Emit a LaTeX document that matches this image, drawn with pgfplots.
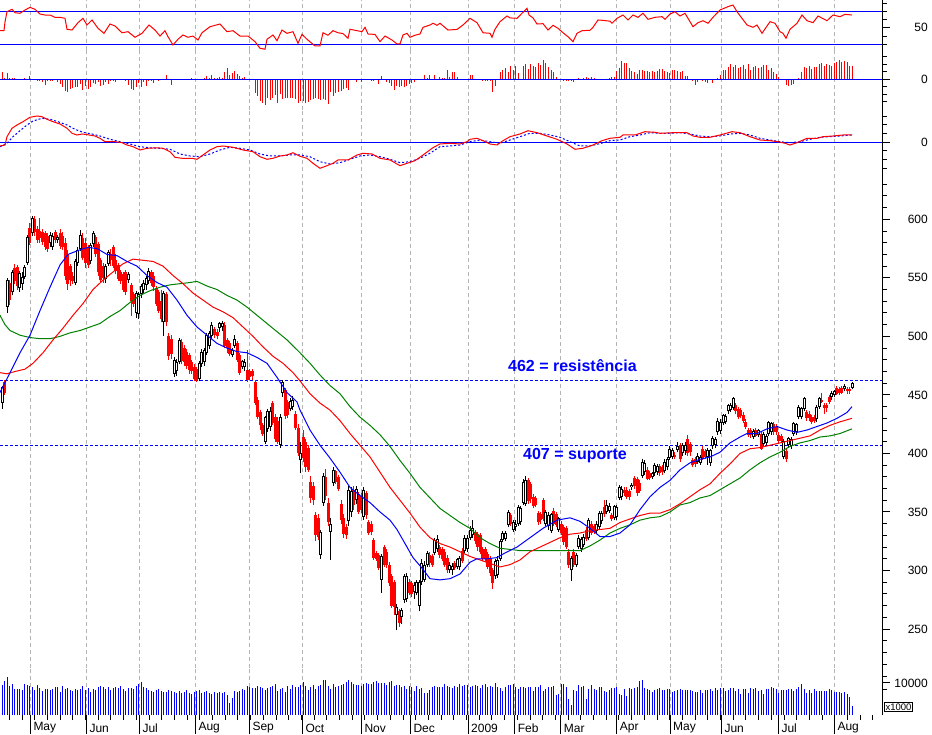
\documentclass[border=0pt]{standalone}
\usepackage{fontspec}
\setmainfont{Liberation Sans}
\usepackage{pgfplots}
\usepackage{pgfplotstable}
\pgfplotsset{compat=1.18}

\definecolor{gridgray}{RGB}{180,180,180}
\definecolor{mablue}{RGB}{0,0,255}
\definecolor{mared}{RGB}{255,0,0}
\definecolor{magreen}{RGB}{0,128,0}

% daily bars: index, open, high, low, close, volume (x1000), histogram
\pgfplotstableread{
i o h l c v g
0 443 458 438 457 9400 7
1 461 463 450 452 10700 1
2 525 550 520 548 11800 6
3 546 548 527 531 9100 1
4 538 557 535 555 9700 1.5
5 558 562 545 547 8000 1
6 559 561 540 543 8000 0.5
7 541 556 538 554 8000 0
8 545 555 540 551 7800 0.5
9 551 561 549 559 9700 1
10 563 587 561 585 9400 0.5
11 593 597 578 580 9000 3
12 588 603 586 601 8600 0.5
13 600 603 586 589 7800 0
14 592 594 580 582 9300 -1.5
15 590 601 580 584 8500 -2
16 589 592 578 581 7500 -3
17 588 590 574 576 8000 -6
18 586 588 572 575 8000 -2
19 580 589 576 587 7900 -1.5
20 576 588 574 586 8200 -2
21 589 591 580 582 8800 -1
22 582 587 580 585 8700 -3
23 588 592 575 577 7300 -5
24 586 589 574 576 9100 -8
25 580 584 548 552 8000 -11.5
26 570 574 540 545 8300 -13
27 560 562 543 548 7800 -9.5
28 552 555 545 547 7600 -8.5
29 546 566 544 564 8100 -8
30 563 576 560 574 7800 -7.5
31 575 591 573 587 8200 -5
32 584 588 565 567 9000 -10.7
33 580 584 558 563 7900 -7
34 576 578 558 561 8400 -9.5
35 564 580 562 578 7200 -8
36 579 590 576 588 8200 -4
37 585 587 568 570 7900 -5
38 579 581 552 555 8600 -3
39 565 567 546 548 9000 -6.5
40 560 563 546 550 8800 -5.5
41 549 562 546 560 8000 -3
42 562 574 560 572 8700 -5
43 570 575 560 565 7700 -2
44 576 578 558 560 8500 -1.5
45 565 570 553 556 8600 -2.3
46 561 563 547 549 8500 -1
47 555 557 545 547 9100 0
48 553 555 538 540 8100 -1
49 555 557 535 538 7600 -2
50 548 555 546 553 8500 -6
51 544 546 517 530 8300 -10
52 536 538 525 528 8000 -10.5
53 520 539 516 537 9000 -7.5
54 519 538 515 536 9700 -4
55 536 545 533 543 10200 -7.5
56 540 548 537 546 8800 -3
57 544 552 540 550 8300 -7
58 547 558 545 556 7900 -2
59 555 557 543 546 7600 -2
60 552 555 539 542 7300 -4
61 541 543 526 528 7800 -1
62 538 540 520 522 8000 -1.5
63 530 540 512 515 7600 0.5
64 512 539 500 537 7300 0
65 536 538 509 512 7100 4
66 500 503 480 483 7900 0.5
67 498 501 481 485 7600 -6
68 468 482 465 480 7200 0
69 470 481 466 478 6900 0.5
70 478 499 476 497 7600 -0.5
71 495 498 476 479 7000 0.5
72 490 493 475 478 7300 0
73 487 489 472 475 7700 0.5
74 484 486 468 471 7000 0
75 478 480 468 470 6600 1
76 474 476 462 464 7100 0
77 472 474 461 463 7500 0.5
78 464 479 462 477 7800 0
79 476 489 474 487 6900 0.5
80 478 490 475 488 7300 1
81 486 503 484 501 7400 3.5
82 492 505 489 503 7000 1
83 500 512 498 510 6500 4.5
84 506 508 499 501 7200 1
85 504 506 498 500 7000 1.5
86 507 512 504 511 7200 2
87 508 513 505 511 7000 1
88 510 512 490 492 7200 7.6
89 497 499 486 490 6400 11
90 494 496 483 485 3800 4.5
91 484 490 482 488 5200 6.7
92 492 501 490 498 7500 8
93 494 496 478 480 7200 5.5
94 484 486 467 469 7600 3.5
95 474 480 472 479 8200 1
96 474 481 470 478 7800 2
97 471 488 461 463 9200 0.5
98 470 472 463 465 8700 0
99 470 472 463 466 8400 0
100 461 463 441 443 8300 -13.3
101 446 448 429 431 9100 -17
102 435 437 420 424 8800 -22
103 424 426 415 417 8300 -24
104 410 432 408 431 7700 -25.7
105 421 438 418 436 8400 -19
106 423 440 419 436 8900 -20.7
107 443 445 424 426 9100 -19
108 431 434 410 412 9600 -16
109 428 431 408 410 7600 -24
110 407 434 405 431 8200 -15
111 452 463 448 461 8500 -20
112 454 456 429 432 7200 -18.5
113 444 446 430 433 9000 -19
114 438 447 436 445 8200 -18.5
115 440 449 437 446 9400 -18.7
116 434 436 420 422 8600 -20
117 422 425 398 400 8800 -24
118 394 410 383 400 9500 -22
119 414 420 393 396 10200 -22
120 410 412 384 388 9000 -23.5
121 405 407 384 386 7900 -22.7
122 376 381 358 362 8900 -20.7
123 372 376 356 360 9500 -20
124 347 350 325 330 8100 -19
125 345 348 326 329 9100 -20
126 313 335 310 333 9300 -20.5
127 358 383 355 381 10900 -19.5
128 380 387 360 364 10900 -21
129 358 362 338 341 9200 -24.7
130 333 345 309 340 8100 -12.3
131 375 388 372 386 9600 -17
132 385 386 374 376 8800 -13.7
133 380 382 368 370 9000 -12.3
134 357 360 340 343 9300 -11.3
135 345 348 328 331 9600 -10
136 337 340 327 330 10400 -9
137 342 372 338 369 10800 -10.7
138 350 371 346 368 10300 0
139 369 372 352 356 9700 -0.5
140 360 372 357 370 9500 -3
141 365 367 348 350 9500 0
142 364 366 349 352 9000 -2.3
143 346 371 343 369 9600 -0.5
144 366 368 344 347 10000 -0.7
145 341 343 330 332 9800 -1
146 340 342 330 333 9600 -1.5
147 326 328 309 311 10200 -2
148 315 317 308 310 10600 -0.5
149 313 315 300 302 9900 -4.7
150 292 314 281 312 10000 3.3
151 320 322 303 305 10100 -1
152 316 318 302 305 9500 -2.3
153 305 307 287 289 10400 -3.5
154 295 297 268 270 10600 -6.7
155 290 292 262 269 9000 -10.7
156 262 271 249 269 9400 -7
157 265 267 252 255 9300 -8
158 260 268 254 266 8900 -7
159 275 297 272 295 9000 -8
160 276 298 273 295 8100 -7
161 290 293 279 281 9100 -5
162 289 291 277 280 8700 -3.5
163 282 290 276 288 7600 -2.5
164 281 292 279 290 9000 -1
165 270 292 265 290 8000 0
166 290 310 288 306 8400 0.5
167 292 308 290 305 6800 4.3
168 305 317 303 315 6900 1
169 313 316 303 306 7700 4.3
170 312 314 303 305 8700 0
171 315 328 313 326 9100 4.3
172 318 330 316 327 8900 0
173 320 322 311 313 8600 2.5
174 318 320 308 310 8700 1
175 316 318 303 305 9700 1.5
176 311 313 298 300 9100 9.3
177 300 307 298 305 8700 2
178 300 306 296 304 8300 7.6
179 306 308 300 302 9000 7.6
180 303 311 301 310 8900 2
181 303 312 300 311 9600 0
182 317 319 306 308 9100 0.5
183 317 330 315 328 9400 0
184 318 330 316 328 9500 0.5
185 328 338 326 335 8900 4.3
186 330 343 328 336 9000 4.3
187 333 335 323 325 9300 0
188 331 333 317 320 9200 -0.5
189 330 332 314 316 8400 -0.7
190 318 320 308 310 9300 -1.5
191 318 320 307 310 9800 -2
192 314 316 301 303 8900 -1.7
193 310 312 295 298 9000 -2
194 300 302 284 289 8900 -12.3
195 295 310 293 308 10100 -6.5
196 296 312 294 309 8600 0
197 310 327 308 325 8300 7.6
198 326 334 324 332 7400 9
199 327 334 325 332 8600 11.3
200 339 352 337 350 9300 7.5
201 347 349 338 340 9300 13
202 335 343 333 341 9600 9
203 337 343 334 340 8700 13
204 340 356 338 354 8100 6.5
205 341 355 339 353 8900 0
206 358 378 356 376 8600 13
207 357 381 355 377 8300 15
208 377 379 357 359 8900 10.7
209 374 376 358 361 8900 15
210 363 365 353 355 7600 13
211 362 364 354 356 8800 12.7
212 349 351 339 341 8800 16.3
213 348 350 340 343 9300 14
214 360 362 342 344 7400 19.3
215 340 352 338 350 8000 16
216 338 350 335 347 8800 12.7
217 334 349 332 348 8700 9.3
218 351 353 338 340 9000 7.6
219 348 350 337 339 6300 2
220 335 346 333 345 6600 -1
221 340 342 330 332 9600 0
222 337 339 322 324 9600 -2
223 336 338 318 320 8800 -2
224 316 318 302 305 5100 -2
225 300 312 291 311 3000 -1.5
226 316 318 303 305 7800 -2.5
227 305 315 303 313 7600 0
228 320 330 318 328 9500 1
229 318 329 316 327 8700 0.5
230 322 331 320 329 9000 1
231 335 337 325 327 5000 2
232 328 345 326 343 8200 1
233 340 342 330 332 9300 2.3
234 338 340 331 333 8200 1
235 334 342 332 340 7900 -0.3
236 337 351 335 349 8700 0
237 342 351 340 349 8600 -0.3
238 354 360 346 348 7500 0
239 350 360 348 356 7200 0
240 351 358 349 355 7700 1
241 347 349 342 344 8300 2
242 345 356 343 355 8300 2.3
243 346 356 343 354 8700 8.6
244 362 373 360 371 6700 11
245 363 372 360 370 6400 18.3
246 369 371 364 366 8000 16.7
247 369 371 361 363 6000 16
248 368 370 360 363 8400 11
249 371 375 369 373 8100 8.6
250 379 381 370 372 8400 7.6
251 378 380 364 366 8900 5.3
252 375 377 366 368 10500 9.3
253 381 395 379 393 11000 9.3
254 384 394 382 392 8500 8.6
255 386 388 377 378 8200 8.6
256 383 385 377 379 7700 7.6
257 380 384 378 383 7200 8.6
258 383 392 381 390 7700 7.6
259 384 391 382 389 8100 8.6
260 389 391 381 383 8300 10
261 388 390 382 384 7700 10
262 385 395 383 393 7700 8.6
263 388 397 386 395 8000 7.6
264 396 406 394 404 8100 6
265 397 405 395 403 7100 9.3
266 399 401 395 397 7400 9.3
267 403 410 401 406 7700 8.6
268 407 409 393 395 8000 7.6
269 400 409 398 407 7900 8.6
270 402 410 399 407 7900 3.3
271 412 416 398 400 7700 3.3
272 408 410 398 401 7900 0
273 394 396 388 390 7600 -2
274 395 397 388 391 7200 -5.3
275 393 400 391 398 7300 -2.3
276 392 399 390 397 7700 -0.5
277 404 406 394 396 6800 -1.3
278 402 404 395 397 7900 -2.3
279 397 405 390 403 7800 -3.3
280 392 404 389 403 8000 -1
281 406 415 404 413 7600 -3.7
282 407 414 405 412 8400 0
283 418 430 416 428 7700 1
284 419 429 417 427 8500 4
285 426 434 424 433 8300 9.3
286 427 434 425 432 7500 9.3
287 436 442 434 441 7800 12.3
288 437 443 435 441 8400 15
289 439 448 437 447 8300 12.3
290 441 443 434 436 7500 14
291 438 440 429 431 8000 11
292 437 439 430 432 6500 12.3
293 433 435 426 428 8200 14
294 427 429 421 423 8100 10.7
295 420 422 414 416 6900 15.3
296 420 422 413 416 8300 9.3
297 414 421 412 419 8200 12.7
298 420 422 414 415 8400 13.3
299 416 421 414 420 7400 11
300 417 419 403 404 7900 12.3
301 408 418 406 417 6600 14
302 409 417 407 415 8000 14
303 417 428 415 427 8100 9.3
304 418 427 416 426 8600 11
305 425 427 416 418 8400 7.6
306 423 425 416 418 8100 5
307 416 418 409 411 6800 2
308 415 417 409 411 7800 0
309 397 412 395 411 7700 -1
310 402 404 393 395 7900 -5.3
311 407 414 405 413 8100 -6.3
312 406 414 404 412 8200 -5.3
313 417 427 415 426 7500 -4.3
314 418 426 416 425 8200 -1
315 431 441 429 440 8800 1.7
316 431 440 429 439 9600 7.6
317 438 448 436 447 8100 12.7
318 435 437 428 430 6800 11
319 434 436 428 430 7800 13.3
320 431 433 425 427 7000 10
321 431 433 426 428 8200 12.7
322 429 441 427 440 7500 12
323 440 448 438 447 7600 15.3
324 446 452 443 444 7400 16
325 441 443 434 439 7600 13.3
326 441 443 435 439 7500 15.3
327 448 450 442 444 8200 14.3
328 448 453 446 452 7800 13.3
329 450 454 448 453 7200 16.7
330 456 458 450 451 7200 17.7
331 455 457 450 452 7100 19.3
332 456 458 451 452 6900 17.7
333 455 459 453 458 7300 18.7
334 455 457 451 453 6600 17.7
335 455 457 451 453 5700 13.3
336 456 461 455 460 2800 13.3
}\candles

\pgfplotsset{
  panel/.style={
    scale only axis, width=882pt, xmin=0, xmax=882,
    axis x line*=bottom, axis y line*=right,
    x axis line style={draw=none},
    y axis line style={black, line width=1pt},
    xtick={30.3,86.3,139.3,195.3,249.3,302.3,361.3,410.3,468,514.7,560.7,616.7,670,721.3,778.3,834.3},
    xticklabels={}, xtick style={draw=none},
    xmajorgrids, major x grid style={gridgray, line width=1pt, dash pattern=on 4pt off 3pt},
    tick align=outside, scaled y ticks=false,
    ytick style={black, line width=1pt},
    major tick length=8pt, minor tick length=4.5pt,
    yticklabel style={font=\fontsize{12}{14}\selectfont, anchor=east, inner sep=0pt, xshift=38pt},
  },
  upc/.style={restrict expr to domain={\thisrow{c}-\thisrow{o}}{0:1000}},
  dnc/.style={restrict expr to domain={\thisrow{c}-\thisrow{o}}{-1000:-0.5}},
  hol/.style={restrict expr to domain={\thisrow{c}-\thisrow{o}}{2:1000}},
  candle/.style={draw=none, mark=none, error bars/.cd, y dir=plus, y explicit, error mark=none},
}

\begin{document}
\begin{tikzpicture}
\path[use as bounding box] (0pt,0pt) rectangle (932pt,734pt);

% RSI-like oscillator
\begin{axis}[panel, at={(0pt,684pt)}, anchor=south west, height=50pt,
  ymin=23.1, ymax=83.7, ytick={50}, yticklabels={50}, minor ytick={30,40,60,70,80}]
\addplot[mablue, line width=1pt] coordinates {(0,70) (882,70)};
\addplot[mablue, line width=1pt] coordinates {(0,30) (882,30)};
\addplot[mared, line width=1pt] coordinates {
(0,46.5) (4,46.5) (5,57) (7,69.5) (12,72.4) (15,68.3) (20,67.6) (25,71.6) (30,74.8) (35,72.4)
(40,66.7) (45,65.5) (50,65.5) (55,62.7) (60,62.7) (65,61.5) (67,48.2) (72,47.3) (78,56.2) (83,61.5)
(87,53.4) (92,59.5) (98,49.4) (104,43.3) (110,54.6) (115,52.2) (122,44) (128,45.3) (135,38.5) (142,43.3)
(149,53.4) (155,47.3) (160,40) (165,46.5) (168,39.2) (173,29.2) (178,36.1) (183,41.3) (188,38.5) (193,40)
(198,35.2) (202,44) (210,51.3) (220,54.6) (227,45.3) (233,46.5) (240,40) (248,40) (255,33.2) (260,25.2)
(265,24) (267,36.1) (273,41.3) (277,34.4) (282,47.3) (287,43.3) (293,45.3) (298,31.2) (302,42.1) (307,36.1)
(315,28) (320,28) (323,44) (328,41) (333,46.5) (338,44) (343,43) (348,37.3) (350,48.2) (355,47)
(362,45.3) (365,50.6) (368,42.5) (375,42) (380,33.2) (385,40) (392,35.2) (397,30.4) (400,30.4) (403,41.3)
(407,43.3) (410,38.5) (415,41) (420,42.5) (423,50.6) (430,53.4) (433,55.5) (437,53) (440,55.5) (448,47.3)
(457,48) (463,53.4) (470,61.5) (477,56.2) (483,44) (490,43.3) (492,38.5) (495,48.2) (500,57.4) (507,64.3)
(510,62) (517,61.5) (522,67.6) (527,73.6) (529,65.5) (533,62) (537,54.6) (543,55) (548,47.3) (553,53)
(558,49.4) (563,44) (568,39.2) (573,33.2) (577,43.3) (582,46.5) (590,47) (593,50.6) (598,59.5) (603,59)
(610,58) (612,55.5) (617,61.5) (623,65.5) (628,59.5) (633,65.5) (638,62.7) (643,67.6) (648,60.3) (655,62.7)
(662,63.5) (665,60.3) (670,66.7) (675,69.5) (680,64.3) (685,67.6) (688,61.5) (693,51.3) (698,56.2) (703,58.6)
(708,55.5) (713,62.7) (720,71.6) (728,75.6) (733,77.6) (737,69.5) (747,53.4) (753,50.6) (757,53.4) (762,43.3)
(770,57.4) (775,55.5) (780,45.3) (783,43.3) (786,37.3) (790,48.2) (797,55.5) (802,65.5) (807,58.6) (813,56.2)
(818,64.3) (827,58.6) (833,65.5) (840,63.5) (845,66.3) (852,65.5)};
\end{axis}

% histogram
\begin{axis}[panel, at={(0pt,624pt)}, anchor=south west, height=60pt,
  ymin=-30.7, ymax=29.3, ytick={0}, yticklabels={0}, minor ytick={-22.5,-15,-7.5,7.5,15,22.5}]
\addplot[ycomb, mared, line width=1pt, mark=none] table[x expr=2+2.53*\thisrow{i}, y=g] {\candles};
\addplot[mablue, line width=1pt] coordinates {(0,0) (882,0)};
\end{axis}

% MACD-like lines
\begin{axis}[panel, at={(0pt,556pt)}, anchor=south west, height=68pt,
  ymin=-35.7, ymax=32.3, ytick={0}, yticklabels={0}, minor ytick={-26.1,-17.4,-8.7,8.7,17.4,26.1}]
\addplot[mablue, line width=1pt] coordinates {(0,0) (882,0)};
\addplot[mablue, line width=1pt, dash pattern=on 2pt off 2pt] coordinates {
(0,-4.4) (7,-1) (13,5.6) (20,11.6) (27,17.3) (33,21.3) (42,24) (50,23) (58,20.6) (67,17.3)
(75,13) (83,10) (92,8.3) (100,6.3) (110,3) (120,0.6) (130,-1.7) (140,-4.4) (150,-5.5) (160,-6)
(170,-7) (180,-11.7) (190,-13.7) (200,-14.4) (210,-11.7) (220,-7.7) (230,-5) (240,-6) (250,-7.7) (260,-11.7)
(270,-13.7) (280,-13.7) (290,-12.7) (300,-12.7) (310,-14.4) (320,-19.4) (330,-21.7) (340,-20.4) (350,-17) (360,-13.7)
(370,-12.7) (380,-14.4) (390,-17) (400,-20.4) (410,-19.4) (420,-16) (430,-11) (440,-4.4) (450,-3.7) (460,-2.7)
(470,0.6) (480,2.3) (490,0.6) (500,-1) (510,2.3) (520,5.6) (530,9) (540,9) (550,7.3) (560,5)
(570,0.6) (580,-3.7) (590,-3.7) (600,-1.3) (610,1.6) (620,2.3) (630,5.6) (640,7.3) (650,9.6) (660,9)
(670,9) (680,9.6) (690,8.3) (700,6.3) (710,5.6) (720,6.3) (730,8.3) (740,9) (750,7.3) (760,4)
(770,2.3) (780,0.6) (790,-0.4) (800,0.6) (810,3) (820,5) (830,5.6) (840,6.3) (852,7.3)};
\addplot[mared, line width=1pt] coordinates {
(0,-3.7) (5,-2.7) (7,5.6) (12,14) (17,17.3) (23,20.6) (30,25) (37,26.3) (42,25.6) (47,23)
(53,20.6) (60,18.3) (67,14) (72,9) (77,7.3) (82,8.3) (88,7.5) (95,6.3) (100,4) (105,0.6)
(115,0.6) (122,-0.4) (127,-2.7) (133,-4.4) (140,-7.7) (147,-6) (157,-5.5) (163,-6) (170,-9.4) (175,-15)
(182,-16) (192,-16) (197,-17) (203,-12.7) (210,-7.7) (217,-4.4) (223,-3.7) (233,-5) (243,-7.7) (253,-9.4)
(260,-14.4) (267,-17) (273,-16) (280,-13.7) (287,-12.7) (293,-10.4) (300,-14) (307,-16) (313,-21) (320,-26)
(327,-23.4) (333,-21) (338,-17.7) (348,-17.7) (357,-12.7) (363,-11) (372,-11.7) (380,-16) (390,-17.7) (400,-23.4)
(407,-21) (415,-18.4) (423,-12.7) (433,-5.4) (440,-1.7) (450,-1) (460,-1.7) (467,0.6) (470,3) (477,4)
(483,1.6) (490,-1.7) (497,-2.7) (503,1.6) (510,5.6) (520,8.3) (528,11.6) (537,9.6) (547,6.3) (557,3)
(567,-1.7) (575,-7) (583,-6) (593,-2.7) (602,1.6) (610,4) (620,5) (623,7.3) (635,7.3) (645,10.6)
(655,10) (660,9) (673,9.6) (687,9.6) (693,6.3) (700,5) (710,5) (720,7.3) (732,10.6) (740,9.6)
(750,5.6) (760,2.3) (770,1.6) (778,0.6) (785,-1) (790,-2.7) (797,-0.4) (807,4) (817,4) (823,5.6)
(833,6.3) (843,7.3) (852,7.3)};
\end{axis}

% price panel
\begin{axis}[panel, at={(0pt,66pt)}, anchor=south west, height=490pt,
  ymin=216.7, ymax=635.3, ytick={250,300,...,600},
  yticklabels={250,300,350,400,450,500,550,600}, minor ytick={220,230,...,630}]
\addplot[mablue, line width=1pt, dash pattern=on 3pt off 2pt] coordinates {(0,462) (882,462)};
\addplot[mablue, line width=1pt, dash pattern=on 3pt off 2pt] coordinates {(0,407) (882,407)};
% down candles
\addplot[dnc, candle, error bar style={draw=mared, line width=1pt}]
  table[x expr=2+2.53*\thisrow{i}, y=l, y error expr=\thisrow{h}-\thisrow{l}] {\candles};
\addplot[dnc, candle, error bar style={draw=mared, line width=3pt}]
  table[x expr=2+2.53*\thisrow{i}, y=c, y error expr=\thisrow{o}-\thisrow{c}] {\candles};
% up candles
\addplot[upc, candle, error bar style={draw=black, line width=1pt}]
  table[x expr=2+2.53*\thisrow{i}, y=l, y error expr=\thisrow{h}-\thisrow{l}] {\candles};
\addplot[upc, candle, error bar style={draw=black, line width=3pt}]
  table[x expr=2+2.53*\thisrow{i}, y=o, y error expr=\thisrow{c}-\thisrow{o}] {\candles};
\addplot[hol, candle, error bar style={draw=white, line width=1pt}]
  table[x expr=2+2.53*\thisrow{i}, y expr=\thisrow{o}+0.85, y error expr=\thisrow{c}-\thisrow{o}-1.7] {\candles};
% moving averages
\addplot[magreen, line width=1pt] coordinates {
(0,518) (5,510) (10,505) (20,501) (30,499) (40,498) (50,498) (60,500) (70,503) (80,505)
(90,508) (100,511) (110,517) (120,522) (130,529) (140,535) (150,539) (160,542) (170,544) (180,545)
(190,546) (197,547) (207,543) (217,540) (227,535) (237,531) (247,525) (257,518) (267,511) (277,504)
(287,497) (300,486) (310,477) (320,467) (330,458) (340,451) (350,440) (360,431) (370,424) (380,416)
(390,406) (400,394) (410,383) (420,371) (430,362) (440,353) (450,347) (460,341) (470,336) (480,328)
(490,323) (500,319) (510,318) (520,317) (530,317) (550,317) (570,317) (580,317) (590,321) (600,326)
(610,332) (620,336) (630,339) (640,343) (650,345) (660,346) (670,350) (680,356) (690,358) (700,362)
(710,364) (720,369) (730,374) (740,379) (750,386) (760,392) (770,397) (780,401) (790,406) (800,409)
(810,411) (820,414) (830,415) (840,417) (852,421)};
\addplot[mared, line width=1pt] coordinates {
(0,469) (7,468) (15,470) (25,472) (33,477) (43,486) (53,497) (63,507) (73,518) (83,528)
(93,540) (103,548) (113,555) (123,562) (133,566) (143,565) (153,564) (163,560) (173,552) (183,545)
(193,537) (203,531) (213,525) (223,521) (233,516) (243,508) (253,500) (263,491) (273,483) (283,477)
(293,469) (300,462) (310,451) (320,443) (330,437) (340,428) (350,417) (360,407) (370,397) (380,384)
(390,371) (400,360) (410,349) (420,337) (430,328) (440,323) (450,320) (460,316) (470,312) (480,309)
(490,306) (500,303) (510,305) (520,309) (530,316) (540,320) (550,324) (560,328) (570,331) (580,332)
(590,334) (600,335) (610,336) (620,341) (630,344) (640,347) (650,349) (660,349) (670,352) (680,357)
(690,363) (700,369) (710,374) (720,383) (730,391) (740,400) (750,404) (760,405) (770,407) (780,409)
(790,411) (800,413) (810,415) (820,420) (830,424) (840,427) (852,430)};
\addplot[mablue, line width=1pt] coordinates {
(0,452) (10,469) (20,486) (30,501) (40,522) (50,542) (60,561) (68,570) (80,574) (88,576)
(97,575) (107,570) (117,569) (127,564) (137,560) (147,552) (157,546) (167,542) (177,531) (187,518)
(197,508) (207,501) (217,494) (227,490) (237,487) (247,486) (257,482) (267,477) (277,465) (287,452)
(297,444) (300,437) (310,420) (320,407) (330,396) (340,384) (350,371) (360,364) (370,358) (380,350)
(390,343) (397,335) (405,323) (413,311) (422,302) (430,293) (440,292) (450,293) (460,297) (470,307)
(477,310) (487,310) (497,311) (505,315) (517,320) (530,328) (543,336) (557,343) (570,345) (580,342)
(590,336) (600,329) (610,329) (620,332) (630,339) (640,352) (650,363) (660,371) (670,377) (680,386)
(690,392) (700,395) (710,397) (720,401) (730,409) (740,414) (747,417) (757,417) (767,421) (777,423)
(787,420) (797,418) (807,420) (817,423) (827,426) (837,430) (847,435) (852,440)};
\node[anchor=west, inner sep=0pt, text=mablue, font=\bfseries\fontsize{16}{16}\selectfont]
  at (axis cs:508,474.7) {462 = resistência};
\node[anchor=west, inner sep=0pt, text=mablue, font=\bfseries\fontsize{16}{16}\selectfont]
  at (axis cs:523,397.8) {407 = suporte};
\end{axis}

% volume
\begin{axis}[panel, at={(0pt,19pt)}, anchor=south west, height=47pt,
  ymin=0, ymax=14687, ytick={10000}, yticklabels={10000}, minor ytick={8000,12000}]
\addplot[ycomb, mablue, line width=1pt, mark=none] table[x expr=2+2.53*\thisrow{i}, y=v] {\candles};
\end{axis}

% date scale
\begin{axis}[at={(0pt,0pt)}, anchor=south west, scale only axis, width=882pt, height=19pt,
  xmin=0, xmax=882, ymin=0, ymax=1, axis line style={draw=none}, ytick=\empty,
  xtick={30.3,86.3,139.3,195.3,249.3,302.3,361.3,410.3,468,514.7,560.7,616.7,670,721.3,778.3,834.3},
  xticklabels={May,Jun,Jul,Aug,Sep,Oct,Nov,Dec,2009,Feb,Mar,Apr,May,Jun,Jul,Aug},
  minor xtick={9.3,22,...,873},
  xtick pos=right, xticklabel pos=left, tick align=inside,
  major tick length=19pt, minor tick length=5pt,
  tick style={black, line width=1pt},
  xticklabel style={font=\fontsize{12}{14}\selectfont, anchor=west, inner sep=0pt, xshift=3pt, yshift=6pt}]
\end{axis}

\node[draw, line width=0.8pt, inner sep=1.2pt, anchor=south west, font=\fontsize{9.5}{9.5}\selectfont]
  at (884pt,22pt) {x1000};
\end{tikzpicture}
\end{document}
